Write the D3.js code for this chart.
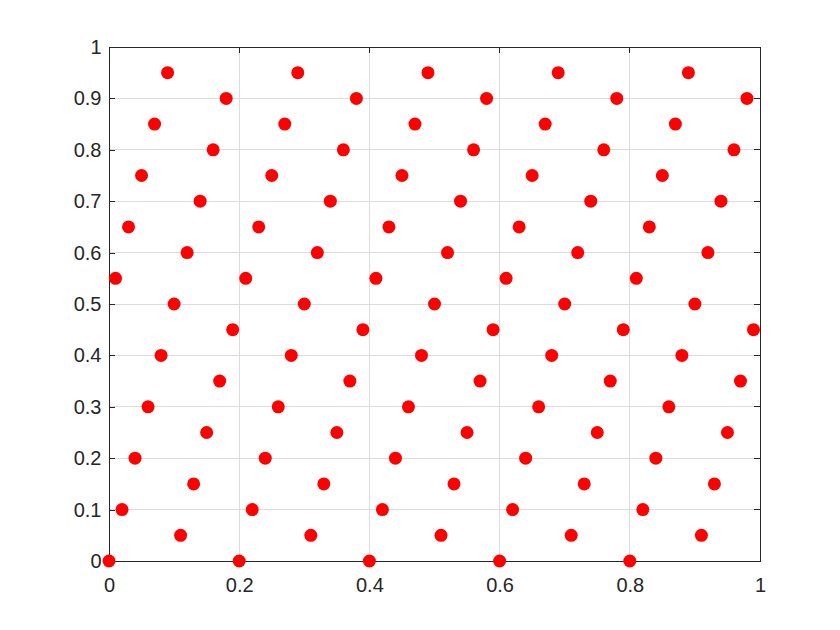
<!DOCTYPE html>
<html><head><meta charset="utf-8">
<script src="https://cdn.jsdelivr.net/npm/d3@7"></script>
<style>body{margin:0;background:#fff}svg{display:block}text{font-family:"Liberation Sans",Arial,sans-serif}</style>
</head><body>
<svg id="c" width="840" height="630"></svg>
<script>
// Row levels (y) and the x positions of points on each row
const rowY = [0,0.05,0.1,0.15,0.2,0.25,0.3,0.35,0.4,0.45,0.5,0.55,0.6,0.65,0.7,0.75,0.8,0.85,0.9,0.95];
const rowX = [
  [0,0.2,0.4,0.6,0.8],
  [0.11,0.31,0.51,0.71,0.91],
  [0.02,0.22,0.42,0.62,0.82],
  [0.13,0.33,0.53,0.73,0.93],
  [0.04,0.24,0.44,0.64,0.84],
  [0.15,0.35,0.55,0.75,0.95],
  [0.06,0.26,0.46,0.66,0.86],
  [0.17,0.37,0.57,0.77,0.97],
  [0.08,0.28,0.48,0.68,0.88],
  [0.19,0.39,0.59,0.79,0.99],
  [0.10,0.30,0.50,0.70,0.90],
  [0.01,0.21,0.41,0.61,0.81],
  [0.12,0.32,0.52,0.72,0.92],
  [0.03,0.23,0.43,0.63,0.83],
  [0.14,0.34,0.54,0.74,0.94],
  [0.05,0.25,0.45,0.65,0.85],
  [0.16,0.36,0.56,0.76,0.96],
  [0.07,0.27,0.47,0.67,0.87],
  [0.18,0.38,0.58,0.78,0.98],
  [0.09,0.29,0.49,0.69,0.89]
];
const xTicks = [0,0.2,0.4,0.6,0.8,1];
const yTicks = [0,0.1,0.2,0.3,0.4,0.5,0.6,0.7,0.8,0.9,1];

const points = [];
rowY.forEach((y,i)=>rowX[i].forEach(x=>points.push({x,y})));

const L=109,R=760,T=47,B=561;
const svg=d3.select("#c");
const x=d3.scaleLinear().domain([0,1]).range([L,R]);
const y=d3.scaleLinear().domain([0,1]).range([B,T]);

// grid
const g=svg.append("g");
g.selectAll(".gx").data(xTicks).join("line")
  .attr("x1",d=>x(d)).attr("x2",d=>x(d)).attr("y1",T).attr("y2",B)
  .attr("stroke","#dcdcdc").attr("stroke-width",1).attr("shape-rendering","crispEdges");
g.selectAll(".gy").data(yTicks).join("line")
  .attr("y1",d=>y(d)).attr("y2",d=>y(d)).attr("x1",L).attr("x2",R)
  .attr("stroke","#dcdcdc").attr("stroke-width",1).attr("shape-rendering","crispEdges");

// box
svg.append("rect").attr("x",L).attr("y",T).attr("width",R-L).attr("height",B-T)
  .attr("fill","none").attr("stroke","#262626").attr("stroke-width",1).attr("shape-rendering","crispEdges");

// axes
const fmt=d=>d3.format("~g")(d);
const ax=svg.append("g").attr("transform",`translate(0,${B})`)
  .call(d3.axisBottom(x).tickValues(xTicks).tickFormat(fmt).tickSizeInner(-6).tickSizeOuter(0).tickPadding(17));
const ay=svg.append("g").attr("transform",`translate(${L},0)`)
  .call(d3.axisLeft(y).tickValues(yTicks).tickFormat(fmt).tickSizeInner(-6).tickSizeOuter(0).tickPadding(7.5));
[ax,ay].forEach(a=>{
  a.attr("font-size",20).attr("font-family","'Liberation Sans',Arial,sans-serif");
  a.select(".domain").attr("stroke","#262626").attr("shape-rendering","crispEdges");
  a.selectAll(".tick line").attr("stroke","#262626").attr("shape-rendering","crispEdges");
  a.selectAll(".tick text").attr("fill","#262626").attr("font-size",20).style("font-size","20px");
});
// top/right ticks
svg.append("g").selectAll("line").data(xTicks).join("line")
  .attr("x1",d=>x(d)).attr("x2",d=>x(d)).attr("y1",T).attr("y2",T+6).attr("stroke","#262626").attr("shape-rendering","crispEdges");
svg.append("g").selectAll("line").data(yTicks).join("line")
  .attr("y1",d=>y(d)).attr("y2",d=>y(d)).attr("x1",R).attr("x2",R-6).attr("stroke","#262626").attr("shape-rendering","crispEdges");

// points
svg.append("g").selectAll("circle").data(points).join("circle")
  .attr("cx",d=>x(d.x)).attr("cy",d=>y(d.y)).attr("r",6.5).attr("fill","#ff0000");
</script>
</body></html>
